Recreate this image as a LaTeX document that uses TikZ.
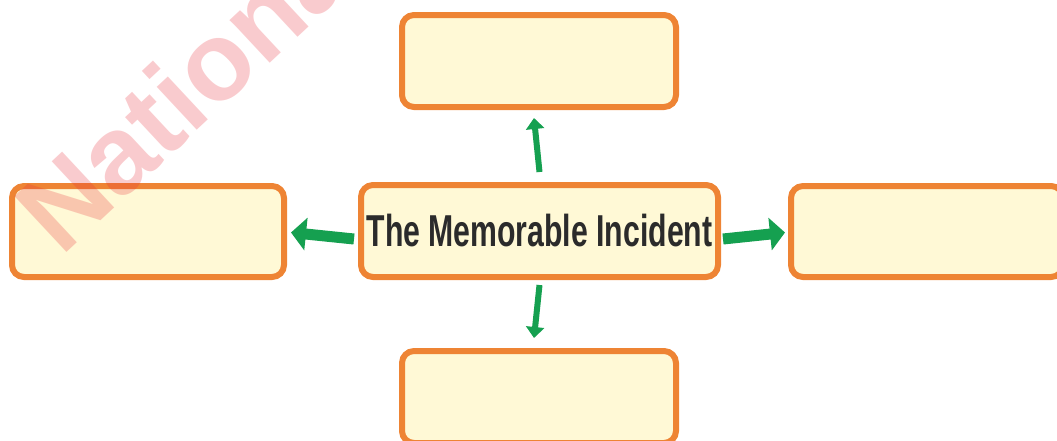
\documentclass[tikz,border=0pt]{standalone}
\usepackage{fontspec}
\usepackage{graphicx}
\setmainfont{Liberation Sans}
\usetikzlibrary{arrows.meta}
\definecolor{boxorange}{HTML}{EE8434}
\definecolor{boxfill}{HTML}{FFF9D6}
\definecolor{arrowgreen}{HTML}{15A050}
\definecolor{wmred}{HTML}{E8303A}
\definecolor{txtdark}{HTML}{2B2B2B}
\tikzset{
  mbox/.style={draw=boxorange, fill=boxfill, line width=6pt, rounded corners=12pt,
    rectangle, inner sep=0pt},
  bigarrow/.style={draw=arrowgreen, line width=11pt, -{Triangle[length=15pt,width=32pt]}},
  smallarrow/.style={draw=arrowgreen, line width=6pt, -{Triangle[length=11pt,width=18pt]}},
  wmark/.style={text=wmred, text opacity=0.25, font=\bfseries\fontsize{111}{111}\selectfont,
    rotate=43, anchor=base west, inner sep=0pt}
}
\begin{document}
\begin{tikzpicture}[x=1pt,y=-1pt]
\useasboundingbox (0,0) rectangle (1057,440);
\clip (0,0) rectangle (1057,440);
\node[mbox, minimum width=357pt, minimum height=92pt] (c) at (539.5,231)
  {\textcolor{txtdark}{\scalebox{0.676}[1]{\bfseries\fontsize{44.7}{44.7}\selectfont The Memorable Incident}}};
\node[mbox, minimum width=274pt, minimum height=92pt] (t) at (539,61) {};
\node[mbox, minimum width=274pt, minimum height=92pt] (b) at (539,397) {};
\node[mbox, minimum width=272pt, minimum height=91pt] (l) at (148,231.5) {};
\node[mbox, minimum width=272pt, minimum height=91pt] (r) at (927,231.5) {};
\node[wmark] (wm) at (61,258) {National};
\draw[bigarrow] ([xshift=-4pt,yshift=-8pt]c.west) -- ([xshift=4pt,yshift=-1pt]l.east);
\draw[bigarrow] ([xshift=2pt,yshift=-8pt]c.east) -- ([xshift=-3pt,yshift=-1pt]r.west);
\draw[smallarrow] ([xshift=0pt,yshift=10pt]c.north) -- ([xshift=-5pt,yshift=-8pt]t.south);
\draw[smallarrow] ([xshift=0pt,yshift=-5pt]c.south) -- ([xshift=-5pt,yshift=10pt]b.north);
\end{tikzpicture}
\end{document}
